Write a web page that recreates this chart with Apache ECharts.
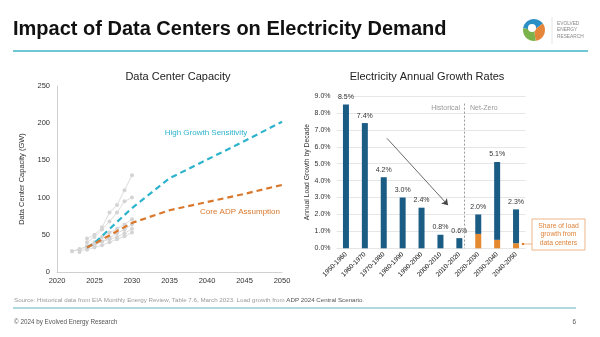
<!DOCTYPE html>
<html>
<head>
<meta charset="utf-8">
<script src="https://cdn.jsdelivr.net/npm/echarts@6/dist/echarts.min.js"></script>
<style>
html,body{margin:0;padding:0;background:#fff;}
#chart{width:600px;height:337px;}
</style>
</head>
<body>
<div id="chart"></div>
<script>
// ---- Left chart data ----
const capYearTicks = [2020, 2025, 2030, 2035, 2040, 2045, 2050];
const scenarioYears = [2024, 2025, 2030, 2035, 2040, 2045, 2050];
const highGrowth = [33, 39, 86, 126, 151, 176, 202];
const coreADP = [33, 38, 66, 83, 94, 105, 117];
const forecastYears = [2022, 2023, 2024, 2025, 2026, 2027, 2028, 2029, 2030];
const forecastA = [null, null, 45, 50, 60, 80, 90, 110, 130];
const forecastB = [null, null, 40, 47, 57, 68, 80, 95, 100];
const forecastC = [28, 30, 35, 40, 47, 53, 58, 64, 71];
const forecastD = [null, 27, 32, 36, 41, 46, 52, 57, 64];
const forecastE = [null, null, 30, 33, 36, 40, 44, 48, 53];
const forecastF = [28, 31, 34, 37, 41, 44, 47, 52, 58];

// ---- Right chart data ----
const periods = ['1950-1960','1960-1970','1970-1980','1980-1990','1990-2000','2000-2010','2010-2020','2020-2030','2030-2040','2040-2050'];
const totalGrowth = [8.5, 7.4, 4.2, 3.0, 2.4, 0.8, 0.6, 2.0, 5.1, 2.3];
const dataCenterShare = [0, 0, 0, 0, 0, 0, 0, 0.85, 0.5, 0.3];

const FONT = 'Liberation Sans, Arial, Helvetica, sans-serif';
const TEAL = '#2db3cc';
const ORANGE = '#d9782d';
const BLUE = '#1b5c85';
const BAR_ORANGE = '#e4892f';

const pairs = (xs, ys) => xs.map((x, i) => [x, ys[i]]);
const otherGrowth = totalGrowth.map((t, i) => +(t - dataCenterShare[i]).toFixed(2));

const forecastSeries = [forecastA, forecastB, forecastC, forecastD, forecastE, forecastF].map(arr => ({
  type: 'line', xAxisIndex: 0, yAxisIndex: 0,
  data: pairs(forecastYears, arr),
  symbol: 'circle', symbolSize: 4,
  lineStyle: {color: '#dddddd', width: 1},
  itemStyle: {color: '#d4d4d4'},
  connectNulls: false, silent: true, z: 1
}));

const chart = echarts.init(document.getElementById('chart'), null, {renderer: 'canvas'});
chart.setOption({
  animation: false,
  backgroundColor: '#ffffff',
  textStyle: {fontFamily: FONT},
  title: [
    {text: 'Impact of Data Centers on Electricity Demand', left: 13, top: 19, padding: 0,
     textStyle: {fontSize: 20, fontWeight: 'bold', color: '#111', fontFamily: FONT}},
    {text: 'Data Center Capacity', left: 173, top: 66, textAlign: 'center',
     textStyle: {fontSize: 11, fontWeight: 'normal', color: '#222', fontFamily: FONT}},
    {text: 'Electricity Annual Growth Rates', left: 422, top: 66, textAlign: 'center',
     textStyle: {fontSize: 11, fontWeight: 'normal', color: '#222', fontFamily: FONT}}
  ],
  grid: [
    {left: 57, top: 86, width: 225, height: 186, containLabel: false},
    {left: 336.5, top: 96, width: 189, height: 152.3, containLabel: false}
  ],
  xAxis: [
    {type: 'value', gridIndex: 0, min: 2020, max: 2050, interval: 5,
     axisLine: {show: true, lineStyle: {color: '#d0d0d0'}}, axisTick: {show: false},
     splitLine: {show: false},
     axisLabel: {fontSize: 7.5, color: '#333', margin: 5, formatter: v => String(v)}},
    {type: 'category', gridIndex: 1, data: periods,
     axisLine: {show: false}, axisTick: {show: false},
     axisLabel: {rotate: 45, fontSize: 6.6, color: '#111', margin: 5, interval: 0}},
    {type: 'value', gridIndex: 1, min: 0, max: 10, show: false}
  ],
  yAxis: [
    {type: 'value', gridIndex: 0, min: 0, max: 250, interval: 50,
     name: 'Data Center Capacity (GW)', nameLocation: 'middle', nameGap: 31,
     nameTextStyle: {fontSize: 7.5, color: '#333'},
     axisLine: {show: true, lineStyle: {color: '#d0d0d0'}}, axisTick: {show: false},
     splitLine: {show: false},
     axisLabel: {fontSize: 7.5, color: '#333', margin: 7}},
    {type: 'value', gridIndex: 1, min: 0, max: 9, interval: 1,
     name: 'Annual Load Growth by Decade', nameLocation: 'middle', nameGap: 26,
     nameTextStyle: {fontSize: 6.8, color: '#333'},
     axisLine: {show: false}, axisTick: {show: false},
     splitLine: {show: true, lineStyle: {color: '#e6e6e6', width: 1}},
     axisLabel: {fontSize: 7, color: '#333', margin: 6, formatter: v => v.toFixed(1) + '%'}}
  ],
  series: [
    ...forecastSeries,
    {type: 'line', name: 'High Growth Sensitivity', xAxisIndex: 0, yAxisIndex: 0,
     data: pairs(scenarioYears, highGrowth), symbol: 'none', z: 5,
     lineStyle: {color: TEAL, width: 2.2, type: [6, 4]}},
    {type: 'line', name: 'Core ADP Assumption', xAxisIndex: 0, yAxisIndex: 0,
     data: pairs(scenarioYears, coreADP), symbol: 'none', z: 5,
     lineStyle: {color: ORANGE, width: 2.2, type: [6, 4]}},
    {type: 'bar', name: 'Data centers', xAxisIndex: 1, yAxisIndex: 1, stack: 'g',
     data: dataCenterShare, barWidth: 6, itemStyle: {color: BAR_ORANGE}},
    {type: 'bar', name: 'Other', xAxisIndex: 1, yAxisIndex: 1, stack: 'g',
     data: otherGrowth, barWidth: 6, itemStyle: {color: BLUE},
     label: {show: true, position: 'top', distance: 4, fontSize: 7, color: '#333',
             formatter: p => totalGrowth[p.dataIndex].toFixed(1) + '%'}},
    {type: 'scatter', xAxisIndex: 2, yAxisIndex: 1, data: [], silent: true,
     markLine: {silent: true, animation: false, symbol: ['none', 'none'],
       lineStyle: {color: '#999', type: [2, 2], width: 1},
       label: {show: false},
       data: [[{coord: [6.75, 8.55]}, {coord: [6.75, 0]}]]}},
    {type: 'scatter', xAxisIndex: 2, yAxisIndex: 1, data: [], silent: true,
     markLine: {silent: true, animation: false, symbol: ['none', 'arrow'], symbolSize: 6,
       lineStyle: {color: '#444', type: 'solid', width: 0.8},
       label: {show: false},
       data: [[{coord: [2.67, 6.5]}, {coord: [5.9, 2.55]}]]}}
  ],
  graphic: [
    // header rule
    {type: 'line', shape: {x1: 13, y1: 51, x2: 588, y2: 51}, style: {stroke: '#3fb3c6', lineWidth: 1.5}},
    // logo
    {type: 'sector', shape: {cx: 534, cy: 30, r: 11, r0: 0, startAngle: -Math.PI * 0.95, endAngle: -Math.PI * 0.2}, style: {fill: '#2a8fc4'}},
    {type: 'sector', shape: {cx: 534, cy: 30, r: 11, r0: 0, startAngle: -Math.PI * 0.2, endAngle: Math.PI * 0.45}, style: {fill: '#e5853a'}},
    {type: 'sector', shape: {cx: 534, cy: 30, r: 11, r0: 0, startAngle: Math.PI * 0.45, endAngle: Math.PI * 1.05}, style: {fill: '#7cb24a'}},
    {type: 'circle', shape: {cx: 532, cy: 28, r: 4}, style: {fill: '#ffffff'}},
    {type: 'line', shape: {x1: 552, y1: 17, x2: 552, y2: 44}, style: {stroke: '#dddddd', lineWidth: 0.8}},
    {type: 'text', left: 557, top: 20, style: {text: 'EVOLVED\nENERGY\nRESEARCH', font: '4.8px ' + FONT, fill: '#888', lineHeight: 6.5}},
    // left chart inline labels
    {type: 'text', x: 206, y: 133, style: {text: 'High Growth Sensitivity', font: '8px ' + FONT, fill: TEAL, textAlign: 'center', textVerticalAlign: 'middle'}},
    {type: 'text', x: 240, y: 212, style: {text: 'Core ADP Assumption', font: '8px ' + FONT, fill: ORANGE, textAlign: 'center', textVerticalAlign: 'middle'}},
    // right chart region labels
    {type: 'text', x: 460, y: 108, style: {text: 'Historical', font: '7px ' + FONT, fill: '#999', textAlign: 'right', textVerticalAlign: 'middle'}},
    {type: 'text', x: 470, y: 108, style: {text: 'Net-Zero', font: '7px ' + FONT, fill: '#999', textAlign: 'left', textVerticalAlign: 'middle'}},
    // annotation box
    {type: 'rect', shape: {x: 532, y: 219, width: 53, height: 31}, style: {fill: '#fff', stroke: '#e9a36a', lineWidth: 0.8}},
    {type: 'text', x: 558.5, y: 234.5, style: {text: 'Share of load\ngrowth from\ndata centers', font: '6.8px ' + FONT, fill: '#e0843a', textAlign: 'center', textVerticalAlign: 'middle', lineHeight: 8.5}},
    {type: 'line', shape: {x1: 523, y1: 244, x2: 532, y2: 244}, style: {stroke: '#e9a36a', lineWidth: 0.8}},
    {type: 'circle', shape: {cx: 523, cy: 244, r: 1.3}, style: {fill: '#e0843a'}},
    // footer
    {type: 'text', left: 14, top: 297, style: {
      text: '{a|Source: Historical data from EIA Monthly Energy Review, Table 7.6, March 2023. Load growth from }{b|ADP 2024 Central Scenario}{a|.}',
      rich: {a: {fontSize: 6.2, fill: '#9a9a9a', fontFamily: FONT}, b: {fontSize: 6.2, fill: '#555', fontFamily: FONT}}}},
    {type: 'line', shape: {x1: 13, y1: 308, x2: 576, y2: 308}, style: {stroke: '#5fb0bd', lineWidth: 1}},
    {type: 'text', left: 14, top: 319, style: {text: '\u00a9 2024 by Evolved Energy Research', font: '6.3px ' + FONT, fill: '#555'}},
    {type: 'text', x: 576, y: 322.5, style: {text: '6', font: '6.3px ' + FONT, fill: '#555', textAlign: 'right', textVerticalAlign: 'middle'}}
  ]
});
</script>
</body>
</html>
